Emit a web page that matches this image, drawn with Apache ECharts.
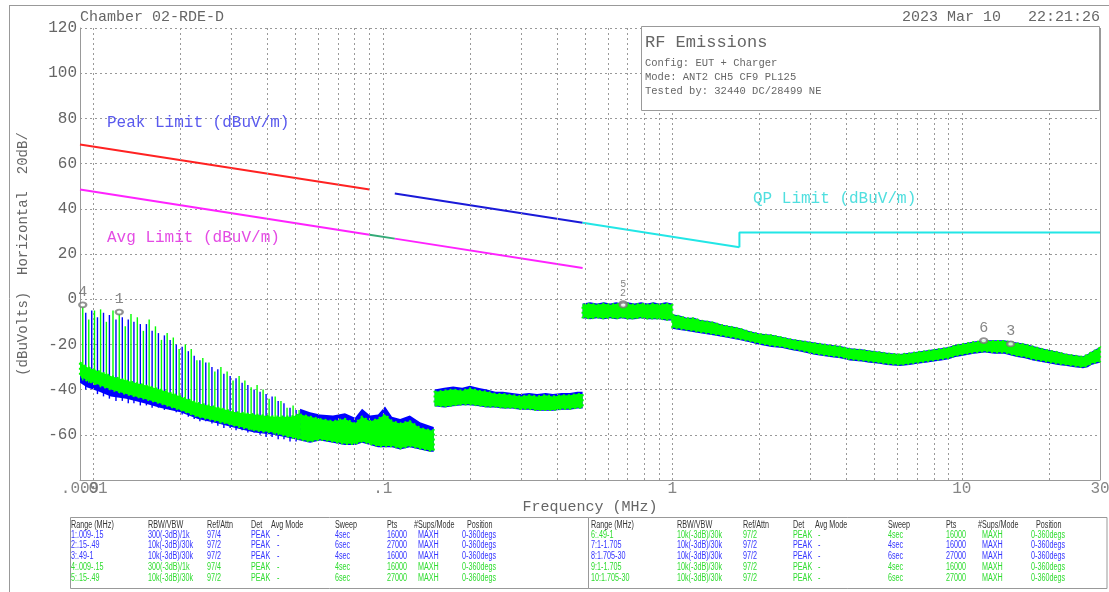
<!DOCTYPE html>
<html><head><meta charset="utf-8">
<script src="https://cdn.jsdelivr.net/npm/echarts@6/dist/echarts.min.js"></script>
<style>html,body{margin:0;padding:0;background:#fff}#c{width:1109px;height:592px}</style>
</head><body><div id="c"></div>
<script>
// ---------- DATA ----------
const xTickValues = [0.009, 0.01, 0.1, 1, 10, 30];
const xTickLabels = ['.009', '.01', '.1', '1', '10', '30'];
const gridFreqs = [0.01,0.02,0.03,0.04,0.05,0.06,0.07,0.08,0.09,0.1,0.2,0.3,0.4,0.5,0.6,0.7,0.8,0.9,1,2,3,4,5,6,7,8,9,10,20];

// limit lines [MHz, dBuV/m]
const peakLimitA = [[0.009, 68.5], [0.09, 48.5]];
const peakLimitB = [[0.11, 46.8], [0.49, 33.8]];
const avgLimitA = [[0.009, 48.5], [0.09, 28.5]];
const avgLimitB = [[0.11, 26.8], [0.49, 13.8]];
const qpLimitA = [[0.09, 28.5], [0.11, 26.8]];
const qpLimitB = [[0.49, 33.8], [1.705, 23.0]];
const qpLimitC = [[1.705, 23.0], [1.705, 29.5], [30, 29.5]];

// comb spikes [MHz, peak, bottom]
const greenSpikes = [
 [0.0092,-3,-36],[0.00965,-9,-37],[0.0101,-5,-38],[0.0106,-4.5,-39],[0.0111,-10,-39],[0.0117,-5,-40],
 [0.0123,-6,-41],[0.0129,-12,-41],[0.0135,-6.5,-42],[0.0142,-8,-43],[0.0149,-14,-43],[0.0156,-9,-44],
 [0.0164,-12,-45],[0.0172,-18,-45],[0.018,-15,-46],[0.0189,-17,-47],[0.0198,-22,-48],[0.0208,-20,-49],
 [0.0218,-22,-50],[0.0228,-27,-51],[0.0239,-26,-52],[0.0251,-28,-53],[0.0263,-32,-54],[0.0276,-30,-55],
 [0.029,-32,-55],[0.0304,-36,-56],[0.0319,-34,-57],[0.0334,-36,-57],[0.0351,-39,-58],[0.0368,-38,-58],
 [0.0386,-40,-59],[0.0405,-44,-59],[0.0425,-43,-60],[0.0445,-45,-60],[0.0467,-48,-61],[0.049,-47,-61],
 [0.0514,-49,-62]
];
const blueSpikes = [
 [0.00942,-6,-40],[0.00988,-5,-39],[0.01034,-8,-42],[0.01085,-6,-43],[0.01137,-7,-44],[0.01198,-9,-45],
 [0.0126,-8,-45],[0.01321,-9,-46],[0.01382,-10,-46],[0.01454,-11,-47],[0.01526,-11,-47],[0.01597,-14,-48],
 [0.01679,-15,-48],[0.01761,-16,-49],[0.01843,-18,-49],[0.01935,-20,-50],[0.02028,-21,-51],[0.0213,-23,-52],
 [0.02232,-25,-53],[0.02335,-27,-54],[0.02447,-28,-54],[0.0257,-30,-55],[0.02693,-31,-56],[0.02826,-33,-57],
 [0.0297,-34,-57],[0.03113,-35,-58],[0.03267,-37,-58],[0.0342,-38,-59],[0.03594,-40,-59],[0.03768,-41,-60],
 [0.03953,-42,-61],[0.04147,-43,-61],[0.04352,-45,-62],[0.04557,-46,-62],[0.04782,-48,-63],[0.05018,-49,-63]
];

// trace envelopes [MHz, top, bottom]
const greenFloor = [[0.009,-28,-34],[0.0095,-30,-36],[0.0105,-32,-38],[0.0115,-34,-40],[0.013,-36,-42],[0.015,-38,-44],[0.017,-40,-46],[0.02,-43,-49],[0.023,-46,-52],[0.027,-48,-54],[0.031,-50,-56],[0.036,-51,-58],[0.042,-52,-59],[0.048,-52,-61],[0.0518,-51,-62]];
const blueFloor = [[0.009,-31,-37],[0.0095,-33,-39],[0.0105,-35,-41],[0.0115,-37,-43],[0.013,-39,-44],[0.015,-41,-46],[0.017,-43,-48],[0.02,-46,-50],[0.023,-49,-53],[0.027,-51,-55],[0.031,-53,-57],[0.036,-54,-59],[0.042,-55,-60],[0.048,-55,-61.5],[0.0518,-50,-62.5]];

const greenSeg1 = [[0.0518,-51,-62],[0.0561,-52,-63],[0.0607,-53,-62],[0.0673,-54,-63],[0.074,-53,-64],[0.0802,-55,-64],[0.0848,-52,-63],[0.0904,-54,-64],[0.0963,-53,-65],[0.1018,-51,-65],[0.1076,-54,-65],[0.1148,-55,-66],[0.124,-54,-65],[0.1345,-57,-66],[0.1456,-58,-67],[0.15,-58,-67]];
const blueSeg1 = [[0.0518,-48.5,-62.5],[0.0561,-50,-63.5],[0.0607,-51,-62.5],[0.0673,-51.5,-63.5],[0.074,-50.5,-64.5],[0.0802,-52.5,-64.5],[0.0848,-48.5,-63.5],[0.0904,-51.5,-64.5],[0.0963,-51,-65.5],[0.1018,-47.5,-65.5],[0.1076,-52,-65.5],[0.1148,-53,-66.5],[0.124,-51.5,-65.5],[0.1345,-54.5,-66.5],[0.1456,-56,-67.5],[0.15,-56.5,-67.5]];

const greenSeg2 = [[0.151,-41,-47],[0.163,-40.5,-47.5],[0.175,-40,-47],[0.188,-40.5,-46.5],[0.2,-39.5,-46.5],[0.215,-40.5,-47],[0.229,-41,-47.5],[0.245,-42,-47.5],[0.26,-42,-48],[0.28,-42.5,-48],[0.298,-43,-48.5],[0.32,-42.5,-48.5],[0.341,-43,-49],[0.365,-42.5,-49],[0.387,-43,-49],[0.415,-42.5,-48.5],[0.443,-42.5,-48.5],[0.47,-42,-48],[0.49,-42,-48]];
const blueSeg2 = [[0.151,-40,-47.4],[0.163,-39.2,-47.9],[0.175,-38.6,-47.4],[0.188,-39.2,-46.9],[0.2,-38.3,-46.9],[0.215,-39.3,-47.4],[0.229,-40,-47.9],[0.245,-41,-47.9],[0.26,-41,-48.4],[0.28,-41.5,-48.4],[0.298,-42,-48.9],[0.32,-41.5,-48.9],[0.341,-42,-49.4],[0.365,-41.5,-49.4],[0.387,-42,-49.4],[0.415,-41.5,-48.9],[0.443,-41.5,-48.9],[0.47,-41,-48.4],[0.49,-41,-48.4]];

const greenSeg3 = [[0.49,-2.5,-8],[0.52,-2,-8.5],[0.55,-2.5,-8],[0.58,-2,-8.5],[0.61,-2.5,-8],[0.64,-2,-8.5],[0.67,-2.5,-8],[0.7,-2,-8.5],[0.74,-2.5,-8.5],[0.78,-2,-8],[0.82,-2.5,-8.5],[0.86,-2,-8.5],[0.9,-2.5,-8.5],[0.95,-2,-9],[1.0,-2.5,-9]];
const blueSeg3 = [[0.49,-1.9,-8.4],[0.52,-1.4,-8.9],[0.55,-1.9,-8.4],[0.58,-1.4,-8.9],[0.61,-1.9,-8.4],[0.64,-1.4,-8.9],[0.67,-1.9,-8.4],[0.7,-1.4,-8.9],[0.74,-1.9,-8.9],[0.78,-1.4,-8.4],[0.82,-1.9,-8.9],[0.86,-1.4,-8.9],[0.9,-1.9,-8.9],[0.95,-1.4,-9.4],[1.0,-1.9,-9.4]];

const greenSeg4 = [[1.0,-7,-12.5],[1.06,-7.5,-13],[1.12,-8.5,-13.5],[1.19,-8.5,-14],[1.25,-9.5,-14.5],[1.33,-10,-15],[1.4,-10.5,-15.5],[1.48,-11.5,-16],[1.55,-12,-16.5],[1.63,-12.5,-17],[1.705,-13,-17.5],[1.85,-14.5,-18.5],[2.0,-15.5,-19.5],[2.2,-16,-20.5],[2.4,-17,-21],[2.6,-18,-22],[2.76,-18.5,-22.5],[3.1,-19.5,-24],[3.5,-20.5,-25],[3.8,-21,-25.5],[4.1,-22,-26.5],[4.5,-22.5,-27],[4.8,-23,-27.5],[5.2,-23.5,-28],[5.5,-24,-28.5],[6.1,-24.5,-29],[6.6,-24,-28.5],[7.0,-23.5,-28],[7.5,-23,-27.5],[8.0,-22.5,-27],[8.5,-22,-26.5],[9.0,-21.5,-26],[9.5,-20.5,-25],[10.0,-20,-24.5],[11.0,-19,-23.5],[12.0,-18.5,-23],[13.0,-18.5,-23.5],[14.0,-18.5,-23.5],[15.5,-19.5,-25],[16.5,-20,-25.5],[17.6,-21,-26.5],[19.5,-22.5,-27.5],[21.5,-23.5,-28.5],[23,-24.5,-29],[24.5,-25,-29.5],[26.2,-25.5,-30],[27.2,-24.5,-29.5],[28,-23.5,-28.5],[29,-22.5,-28],[30,-21.5,-27.5]];
const blueSeg4 = [[1.0,-6.7,-13.1],[1.06,-7.2,-13.6],[1.12,-8.2,-14.1],[1.19,-8.2,-14.6],[1.25,-9.2,-15.1],[1.33,-9.7,-15.6],[1.4,-10.2,-16.1],[1.48,-11.2,-16.6],[1.55,-11.7,-17.1],[1.63,-12.2,-17.6],[1.705,-12.7,-18.1],[1.85,-14.2,-19.1],[2.0,-15.2,-20.1],[2.2,-15.7,-21.1],[2.4,-16.7,-21.6],[2.6,-17.7,-22.6],[2.76,-18.2,-23.1],[3.1,-19.2,-24.6],[3.5,-20.2,-25.6],[3.8,-20.7,-26.1],[4.1,-21.7,-27.1],[4.5,-22.2,-27.6],[4.8,-22.7,-28.1],[5.2,-23.2,-28.6],[5.5,-23.7,-29.1],[6.1,-24.2,-29.6],[6.6,-23.7,-29.1],[7.0,-23.2,-28.6],[7.5,-22.7,-28.1],[8.0,-22.2,-27.6],[8.5,-21.7,-27.1],[9.0,-21.2,-26.6],[9.5,-20.2,-25.6],[10.0,-19.7,-25.1],[11.0,-18.7,-24.1],[12.0,-18.2,-23.6],[13.0,-18.2,-24.1],[14.0,-18.2,-24.1],[15.5,-19.2,-25.6],[16.5,-19.7,-26.1],[17.6,-20.7,-27.1],[19.5,-22.2,-28.1],[21.5,-23.2,-29.1],[23,-24.2,-29.6],[24.5,-24.7,-30.1],[26.2,-25.2,-30.6],[27.2,-24.2,-30.1],[28,-23.2,-29.1],[29,-22.2,-28.6],[30,-21.2,-28.1]];

// markers [MHz, dB, label]
const markers = [[0.0092,-2.5,'4'],[0.0123,-5.7,'1'],[0.676,-2.0,'2'],[0.677,-2.6,'5'],[11.9,-18.3,'6'],[14.74,-19.8,'3']];

// info / table texts
const titleText = 'Chamber 02-RDE-D';
const dateText = '2023 Mar 10   22:21:26';
const infoLines = ['Config: EUT + Charger', 'Mode: ANT2 CH5 CF9 PL125', 'Tested by: 32440 DC/28499 NE'];
const tableHeader = ['Range (MHz)','RBW/VBW','Ref/Attn','Det','Avg Mode','Sweep','Pts','#Sups/Mode','Position'];
const tableLeft = [
 ['1:.009-.15','300(-3dB)/1k','97/4','PEAK','-','4sec','16000','MAXH','0-360degs'],
 ['2:.15-.49','10k(-3dB)/30k','97/2','PEAK','-','6sec','27000','MAXH','0-360degs'],
 ['3:.49-1','10k(-3dB)/30k','97/2','PEAK','-','4sec','16000','MAXH','0-360degs'],
 ['4:.009-.15','300(-3dB)/1k','97/4','PEAK','-','4sec','16000','MAXH','0-360degs'],
 ['5:.15-.49','10k(-3dB)/30k','97/2','PEAK','-','6sec','27000','MAXH','0-360degs']
];
const tableRight = [
 ['6:.49-1','10k(-3dB)/30k','97/2','PEAK','-','4sec','16000','MAXH','0-360degs'],
 ['7:1-1.705','10k(-3dB)/30k','97/2','PEAK','-','4sec','16000','MAXH','0-360degs'],
 ['8:1.705-30','10k(-3dB)/30k','97/2','PEAK','-','6sec','27000','MAXH','0-360degs'],
 ['9:1-1.705','10k(-3dB)/30k','97/2','PEAK','-','4sec','16000','MAXH','0-360degs'],
 ['10:1.705-30','10k(-3dB)/30k','97/2','PEAK','-','6sec','27000','MAXH','0-360degs']
];
const tableLeftColors = ['b','b','b','g','g'];
const tableRightColors = ['g','b','b','g','g'];

// ---------- STYLE / LAYOUT ----------
const FONT = '"Liberation Mono","DejaVu Sans Mono",monospace';
const GRAY = '#666';
const GREEN = '#00ff00', BLUE = '#0000ff';
const TBL_BLUE = '#3434ff', TBL_GREEN = '#2fdc2f';

function bandSeries(segs, color, z, dashed) {
  return {
    type: 'custom', z, silent: true,
    data: segs.map(s => [s[0][0], s[0][1]]),
    renderItem: function (params, api) {
      const seg = segs[params.dataIndex];
      const pts = [];
      for (let i = 0; i < seg.length; i++) pts.push(api.coord([seg[i][0], seg[i][1]]));
      for (let i = seg.length - 1; i >= 0; i--) pts.push(api.coord([seg[i][0], seg[i][2]]));
      const style = dashed ? { fill: color, stroke: color, lineWidth: 2.2, lineDash: [2, 3] } : { fill: color };
      return { type: 'polygon', shape: { points: pts }, style };
    }
  };
}
function spikeSeries(data, color, z) {
  return {
    type: 'custom', z, silent: true, data, encode: { x: 0, y: [1, 2] },
    renderItem: function (params, api) {
      const a = api.coord([api.value(0), api.value(1)]);
      const b = api.coord([api.value(0), api.value(2)]);
      return { type: 'line', shape: { x1: a[0], y1: a[1], x2: b[0], y2: b[1] }, style: { stroke: color, lineWidth: 1.4 } };
    }
  };
}
function limitSeries(data, color) {
  return { type: 'line', data, showSymbol: false, silent: true, z: 3, lineStyle: { color, width: 2 }, animation: false };
}

const graphics = [];
graphics.push({ type: 'line', z: 100, shape: { x1: 9, y1: 5.5, x2: 1109, y2: 5.5 }, style: { stroke: '#999', lineWidth: 1 } });
graphics.push({ type: 'line', z: 100, shape: { x1: 9.5, y1: 5, x2: 9.5, y2: 592 }, style: { stroke: '#999', lineWidth: 1 } });
graphics.push({ type: 'text', z: 100, x: 80, y: 17, style: { text: titleText, font: '15px ' + FONT, fill: GRAY, verticalAlign: 'middle' } });
graphics.push({ type: 'text', z: 100, x: 1100, y: 17, style: { text: dateText, font: '15px ' + FONT, fill: GRAY, align: 'right', verticalAlign: 'middle' } });
graphics.push({ type: 'rect', z: 100, shape: { x: 641.5, y: 26.5, width: 458, height: 84 }, style: { fill: '#fff', stroke: '#999', lineWidth: 1 } });
graphics.push({ type: 'text', z: 101, x: 645, y: 42, style: { text: 'RF Emissions', font: '17px ' + FONT, fill: GRAY, verticalAlign: 'middle' } });
const infoY = [63.5, 77.5, 91.5];
infoLines.forEach((t, i) => graphics.push({ type: 'text', z: 101, x: 645, y: infoY[i], style: { text: t, font: '10.5px ' + FONT, fill: GRAY, verticalAlign: 'middle' } }));
graphics.push({ type: 'text', z: 100, x: 107, y: 123, style: { text: 'Peak Limit (dBuV/m)', font: '16px ' + FONT, fill: '#5a5aee', verticalAlign: 'middle' } });
graphics.push({ type: 'text', z: 100, x: 107, y: 238, style: { text: 'Avg Limit (dBuV/m)', font: '16px ' + FONT, fill: '#e44be4', verticalAlign: 'middle' } });
graphics.push({ type: 'text', z: 100, x: 753, y: 199, style: { text: 'QP Limit (dBuV/m)', font: '16px ' + FONT, fill: '#4fdfdf', verticalAlign: 'middle' } });
graphics.push({ type: 'rect', z: 100, shape: { x: 70.5, y: 517.5, width: 1036.5, height: 71 }, style: { fill: '#fff', stroke: '#999', lineWidth: 1 } });
graphics.push({ type: 'line', z: 100, shape: { x1: 588.5, y1: 517.5, x2: 588.5, y2: 588.5 }, style: { stroke: '#999', lineWidth: 1 } });
const rowY = [525, 535, 545.5, 556, 567, 578];
const colLH = [71, 148, 207, 251, 271, 335, 387, 414, 467];
const colLD = [71, 148, 207, 251, 277, 335, 387, 418, 462];
const colRH = [591, 677, 743, 793, 815, 888, 946, 978, 1036];
const colRD = [591, 677, 743, 793, 818, 888, 946, 982, 1031];
function tText(t, x, y, fill) {
  graphics.push({ type: 'text', z: 101, x, y, scaleX: 0.72, style: { text: t, font: '10px "Liberation Sans",Arial,sans-serif', fill, verticalAlign: 'middle' } });
}
tableHeader.forEach((t, j) => { tText(t, colLH[j], rowY[0], '#333'); tText(t, colRH[j], rowY[0], '#333'); });
tableLeft.forEach((r, i) => r.forEach((t, j) => tText(t, colLD[j], rowY[i + 1], tableLeftColors[i] === 'b' ? TBL_BLUE : TBL_GREEN)));
tableRight.forEach((r, i) => r.forEach((t, j) => tText(t, colRD[j], rowY[i + 1], tableRightColors[i] === 'b' ? TBL_BLUE : TBL_GREEN)));

const markerData = markers.map(m => {
  const item = { value: [m[0], m[1]], label: { formatter: m[2] } };
  if (m[2] === '2') item.label = { formatter: '2', fontSize: 10, distance: 2, color: GRAY };
  if (m[2] === '5') item.label = { formatter: '5', fontSize: 10, distance: 12, color: GRAY };
  return item;
});

const option = {
  animation: false,
  backgroundColor: '#fff',
  grid: { left: 80, right: 9, top: 28, bottom: 112 },
  xAxis: {
    type: 'log', logBase: 10, min: 0.009, max: 30,
    axisLine: { onZero: false, lineStyle: { color: '#999', width: 1 } },
    axisTick: { show: false }, axisLabel: { show: false }, splitLine: { show: false },
    name: 'Frequency (MHz)', nameLocation: 'middle', nameGap: 20,
    nameTextStyle: { fontFamily: FONT, fontSize: 15, color: GRAY, verticalAlign: 'top' }
  },
  yAxis: {
    type: 'value', min: -80, max: 120, interval: 20,
    axisLine: { show: true, onZero: false, lineStyle: { color: '#999', width: 1 } },
    axisTick: { show: false },
    axisLabel: { formatter: v => (v === -80 ? '' : String(v)), margin: 3, fontFamily: FONT, fontSize: 16, color: GRAY },
    splitLine: { show: true, lineStyle: { type: [2, 3], color: '#999', width: 1 } },
    name: '(dBuVolts)  Horizontal  20dB/', nameLocation: 'middle', nameGap: 50, nameRotate: 90,
    nameTextStyle: { fontFamily: FONT, fontSize: 14, color: GRAY }
  },
  graphic: { elements: graphics },
  series: [
    { type: 'line', z: 1, silent: true, data: [[0.009, -80]], showSymbol: false, lineStyle: { opacity: 0 },
      markLine: { symbol: 'none', silent: true, label: { show: false }, animation: false,
        lineStyle: { type: [2, 3], color: '#999', width: 1 },
        data: gridFreqs.map(f => ({ xAxis: f })).concat([{ xAxis: 30, lineStyle: { type: 'solid', color: '#999', width: 1 } }]) } },
    limitSeries(peakLimitA, '#ff2222'),
    limitSeries(peakLimitB, '#1a1ad8'),
    limitSeries(avgLimitA, '#ff22ff'),
    limitSeries(avgLimitB, '#ff22ff'),
    limitSeries(qpLimitA, '#33aa77'),
    limitSeries(qpLimitB, '#22e6e6'),
    limitSeries(qpLimitC, '#22e6e6'),
    bandSeries([blueFloor, blueSeg1, blueSeg2, blueSeg3, blueSeg4], BLUE, 4, false),
    spikeSeries(blueSpikes, BLUE, 4),
    bandSeries([greenFloor, greenSeg1, greenSeg2, greenSeg3, greenSeg4], GREEN, 5, true),
    spikeSeries(greenSpikes, GREEN, 5),
    { type: 'scatter', z: 6, silent: true, data: markerData, symbol: 'emptyCircle', symbolSize: [7, 5],
      itemStyle: { color: '#777', borderColor: '#777', borderWidth: 1 },
      labelLayout: { hideOverlap: false },
      label: { show: true, position: 'top', distance: 2, fontFamily: FONT, fontSize: 15, color: GRAY } },
    { type: 'scatter', z: 6, silent: true, clip: false, symbolSize: 0,
      data: xTickValues.map((v, i) => ({ value: [v, -80], label: { formatter: xTickLabels[i] } })),
      label: { show: true, position: 'bottom', distance: 1, fontFamily: FONT, fontSize: 16, color: GRAY } }
  ]
};
const chart = echarts.init(document.getElementById('c'), null, { renderer: 'canvas' });
chart.setOption(option);
</script></body></html>
